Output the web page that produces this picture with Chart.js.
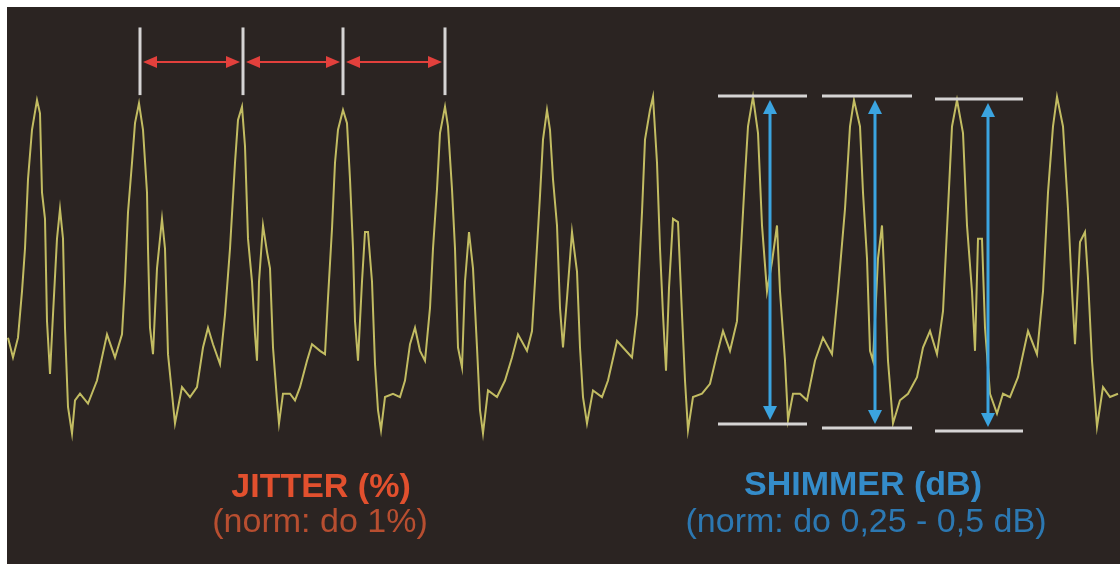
<!DOCTYPE html>
<html>
<head>
<meta charset="utf-8">
<title>Jitter i shimmer</title>
<script src="https://cdn.jsdelivr.net/npm/chart.js"></script>
<style>
  html, body { margin: 0; padding: 0; background: #ffffff; overflow: hidden; }
  #wrap { width: 1120px; height: 564px; position: relative; }
</style>
</head>
<body>
<div id="wrap"><canvas id="wave"></canvas></div>
<script>
const times = [
    0.1, 0.6, 1.1, 1.5, 1.8, 2.1, 2.5, 3.0, 3.3, 3.5, 3.8, 4.0, 4.3, 4.6, 5.0, 5.3, 5.6, 5.8, 6.1, 6.5,
    6.8, 7.3, 8.1, 9.0, 10.0, 10.8, 11.5, 11.8, 12.1, 12.5, 12.8, 13.2, 13.6, 14.0, 14.1, 14.3, 14.6, 15.0, 15.5, 15.8,
    16.1, 16.5, 16.8, 17.5, 18.3, 19.0, 19.6, 20.1, 20.6, 21.3, 21.8, 22.3, 22.8, 23.1, 23.5, 23.8, 24.1, 24.5, 24.8, 25.0,
    25.2, 25.6, 26.0, 26.3, 26.6, 27.0, 27.2, 27.6, 28.3, 28.8, 29.3, 30.0, 30.5, 31.3, 31.8, 32.1, 32.5, 32.8, 33.1, 33.6,
    34.0, 34.3, 34.6, 34.8, 35.1, 35.5, 35.8, 36.1, 36.5, 36.8, 37.1, 37.4, 37.8, 38.6, 39.3, 39.8, 40.3, 40.8, 41.3, 41.8,
    42.3, 42.6, 43.0, 43.3, 43.8, 44.1, 44.5, 44.8, 45.1, 45.5, 45.8, 46.2, 46.6, 47.0, 47.3, 47.6, 48.1, 49.0, 49.8, 50.5,
    51.1, 52.0, 52.5, 52.8, 53.3, 53.6, 54.0, 54.3, 54.6, 55.0, 55.3, 55.6, 56.0, 56.5, 57.0, 57.3, 57.6, 58.0, 58.6, 59.5,
    60.1, 61.0, 61.6, 62.5, 63.0, 63.5, 63.8, 64.3, 64.6, 65.0, 65.3, 65.6, 65.9, 66.2, 66.6, 67.1, 67.5, 67.8, 68.1, 68.6,
    69.5, 70.3, 71.0, 71.6, 72.3, 73.0, 73.8, 74.1, 74.6, 75.1, 75.5, 76.0, 76.5, 77.0, 77.3, 77.8, 78.1, 78.6, 79.3, 80.0,
    80.8, 81.6, 82.5, 83.1, 83.8, 84.3, 84.7, 85.3, 85.6, 86.0, 86.3, 86.6, 87.1, 87.5, 87.8, 88.1, 88.6, 89.3, 90.1, 91.0,
    91.6, 92.3, 93.0, 93.6, 94.1, 94.5, 95.0, 95.6, 96.0, 96.5, 96.8, 97.1, 97.5, 97.8, 98.3, 99.0, 99.6, 100.3, 101.1, 102.1,
    103.0, 103.6, 104.1, 104.6, 105.0, 105.6, 106.1, 106.5, 106.8, 107.3, 107.8, 108.1, 108.5, 109.0, 109.6, 110.3, 111.1
];
const amplitude = [
    28, 22, 28, 42, 55, 76, 91, 100, 96, 72, 64, 33, 17, 35, 58, 67, 58, 31, 7, -1,
    9, 11, 8, 15, 29, 22, 29, 45, 66, 81, 93, 99, 91, 72, 55, 31, 23, 49, 64, 55,
    23, 11, 2, 13, 10, 13, 25, 31, 26, 20, 35, 55, 81, 94, 98, 86, 58, 45, 29, 21,
    45, 62, 54, 49, 25, 9, 2, 11, 11, 9, 13, 21, 26, 24, 23, 40, 61, 81, 91, 97,
    93, 76, 55, 33, 21, 45, 60, 60, 45, 20, 6, 0, 10, 11, 10, 15, 26, 31, 24, 21,
    37, 55, 73, 90, 98, 92, 73, 55, 25, 19, 45, 60, 49, 25, 6, -1, 12, 10, 15, 22,
    29, 24, 30, 45, 71, 88, 97, 91, 76, 62, 37, 25, 40, 60, 48, 25, 10, 2, 12, 10,
    15, 27, 25, 22, 35, 66, 88, 97, 101, 81, 55, 35, 18, 43, 64, 63, 35, 15, 0, 10,
    11, 14, 23, 30, 24, 33, 77, 92, 101, 90, 62, 42, 51, 62, 42, 21, 3, 11, 11, 9,
    21, 28, 23, 42, 67, 92, 100, 92, 72, 52, 24, 21, 52, 62, 42, 21, 2, 9, 11, 16,
    25, 30, 23, 36, 67, 92, 100, 90, 62, 42, 24, 58, 58, 31, 11, 5, 11, 10, 16, 30,
    23, 42, 72, 92, 101, 92, 67, 42, 26, 57, 60, 46, 21, 1, 13, 10, 11
];

// jitter: momenty kolejnych szczytów
const jitterPeaks = [13.3, 23.6, 33.6, 43.8];
const jitterMarkTop = 122;
const jitterMarkBottom = 101.5;
const jitterArrowLevel = 111.5;

// shimmer: szczyt i dolina trzech okresów
const shimmerStart = [71.1, 81.5, 92.8];
const shimmerEnd = [80.0, 90.5, 101.6];
const shimmerPeak = [101.2, 101.2, 100.3];
const shimmerTrough = [1.8, 0.6, -0.3];
const shimmerArrowAt = [76.3, 86.8, 98.1];

const labelJitter = ['JITTER (%)', '(norm: do 1%)'];
const labelShimmer = ['SHIMMER (dB)', '(norm: do 0,25 - 0,5 dB)'];

function arrowHead(ctx, x, y, angle, len, half) {
    ctx.save();
    ctx.translate(x, y);
    ctx.rotate(angle);
    ctx.beginPath();
    ctx.moveTo(0, 0);
    ctx.lineTo(-len, -half);
    ctx.lineTo(-len, half);
    ctx.closePath();
    ctx.fill();
    ctx.restore();
}

const backdrop = {
    id: 'backdrop',
    beforeDraw(chart) {
        const { ctx, chartArea } = chart;
        ctx.save();
        ctx.fillStyle = '#2b2422';
        ctx.fillRect(chartArea.left, chartArea.top, chart.width - chartArea.left, chart.height - chartArea.top);
        ctx.restore();
    }
};

const marks = {
    id: 'marks',
    afterDatasetsDraw(chart) {
        const ctx = chart.ctx;
        const xs = chart.scales.x;
        const ys = chart.scales.y;
        ctx.save();

        // jitter - pionowe znaczniki
        ctx.strokeStyle = '#d6d4d4';
        ctx.lineWidth = 3;
        jitterPeaks.forEach(t => {
            const px = xs.getPixelForValue(t);
            ctx.beginPath();
            ctx.moveTo(px, ys.getPixelForValue(jitterMarkTop));
            ctx.lineTo(px, ys.getPixelForValue(jitterMarkBottom));
            ctx.stroke();
        });

        // jitter - czerwone strzałki
        ctx.strokeStyle = '#e2403c';
        ctx.fillStyle = '#e2403c';
        ctx.lineWidth = 2;
        const ay = ys.getPixelForValue(jitterArrowLevel);
        for (let i = 0; i < jitterPeaks.length - 1; i++) {
            const a = xs.getPixelForValue(jitterPeaks[i]) + 3;
            const b = xs.getPixelForValue(jitterPeaks[i + 1]) - 3;
            ctx.beginPath();
            ctx.moveTo(a + 10, ay);
            ctx.lineTo(b - 10, ay);
            ctx.stroke();
            arrowHead(ctx, a, ay, Math.PI, 14, 6);
            arrowHead(ctx, b, ay, 0, 14, 6);
        }

        // shimmer - poziome linie
        ctx.strokeStyle = '#d6d4d4';
        ctx.lineWidth = 3;
        shimmerStart.forEach((s, i) => {
            const x1 = xs.getPixelForValue(s);
            const x2 = xs.getPixelForValue(shimmerEnd[i]);
            [shimmerPeak[i], shimmerTrough[i]].forEach(v => {
                const py = ys.getPixelForValue(v);
                ctx.beginPath();
                ctx.moveTo(x1, py);
                ctx.lineTo(x2, py);
                ctx.stroke();
            });
        });

        // shimmer - niebieskie strzałki
        ctx.strokeStyle = '#3ba4e0';
        ctx.fillStyle = '#3ba4e0';
        ctx.lineWidth = 3;
        shimmerArrowAt.forEach((t, i) => {
            const px = xs.getPixelForValue(t);
            const top = ys.getPixelForValue(shimmerPeak[i]) + 4;
            const bot = ys.getPixelForValue(shimmerTrough[i]) - 4;
            ctx.beginPath();
            ctx.moveTo(px, top + 10);
            ctx.lineTo(px, bot - 10);
            ctx.stroke();
            arrowHead(ctx, px, top, -Math.PI / 2, 14, 7);
            arrowHead(ctx, px, bot, Math.PI / 2, 14, 7);
        });

        // podpisy
        ctx.textAlign = 'center';
        ctx.textBaseline = 'alphabetic';
        ctx.font = 'bold 34px "Liberation Sans", Arial, sans-serif';
        ctx.fillStyle = '#e2502e';
        ctx.fillText(labelJitter[0], 321, 497);
        ctx.fillStyle = '#348cca';
        ctx.fillText(labelShimmer[0], 863, 495);
        ctx.font = '34px "Liberation Sans", Arial, sans-serif';
        ctx.fillStyle = '#b84e30';
        ctx.fillText(labelJitter[1], 320, 532);
        ctx.fillStyle = '#2c78b2';
        ctx.fillText(labelShimmer[1], 866, 532);

        ctx.restore();
    }
};

new Chart(document.getElementById('wave'), {
    type: 'line',
    data: {
        datasets: [{
            label: 'sygnał',
            data: times.map((t, i) => ({ x: t, y: amplitude[i] })),
            borderColor: '#c2bc62',
            borderWidth: 2,
            pointRadius: 0,
            tension: 0,
            fill: false
        }]
    },
    options: {
        responsive: true,
        maintainAspectRatio: false,
        animation: false,
        layout: { padding: { left: 7, top: 7, right: 0, bottom: 0 } },
        scales: {
            x: { type: 'linear', min: 0, max: 111.3, display: false },
            y: { min: -40.6, max: 128.2, display: false }
        },
        plugins: {
            legend: { display: false },
            tooltip: { enabled: false }
        }
    },
    plugins: [backdrop, marks]
});
</script>
</body>
</html>
